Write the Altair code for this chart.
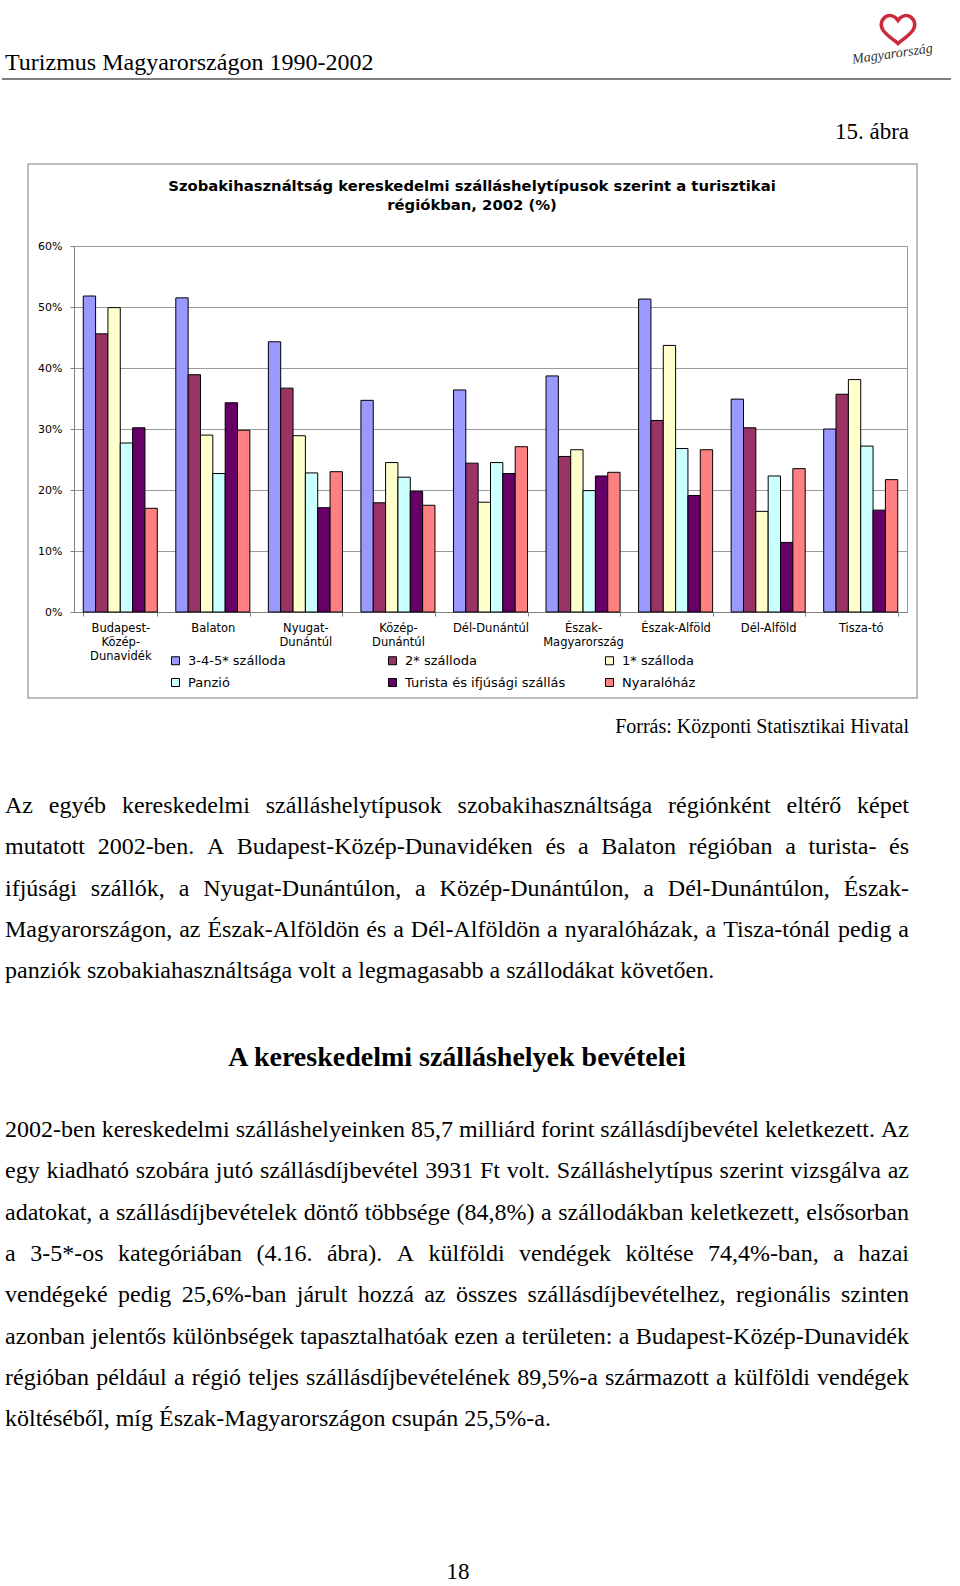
import altair as alt
import pandas as pd

# ---------------- chart data ----------------
regions = ["Budapest-|Közép-|Dunavidék", "Balaton", "Nyugat-|Dunántúl", "Közép-|Dunántúl",
           "Dél-Dunántúl", "Észak-|Magyarország", "Észak-Alföld", "Dél-Alföld", "Tisza-tó"]
series = ["3-4-5* szálloda", "2* szálloda", "1* szálloda", "Panzió",
          "Turista és ifjúsági szállás", "Nyaralóház"]
colors = ["#9999FF", "#993366", "#FFFFCC", "#CCFFFF", "#660066", "#FF8080"]

hotel345 = [51.8, 51.5, 44.3, 34.7, 36.4, 38.7, 51.3, 34.9, 30.0]
hotel2 = [45.6, 38.9, 36.7, 17.9, 24.4, 25.5, 31.4, 30.2, 35.7]
hotel1 = [49.9, 29.0, 28.9, 24.5, 18.0, 26.6, 43.7, 16.5, 38.1]
panzio = [27.7, 22.7, 22.8, 22.1, 24.5, 19.9, 26.8, 22.3, 27.2]
turista = [30.2, 34.3, 17.1, 19.8, 22.7, 22.3, 19.1, 11.4, 16.7]
nyaralo = [17.0, 29.8, 23.0, 17.5, 27.1, 22.9, 26.6, 23.5, 21.7]
y_ticks = [0, 10, 20, 30, 40, 50, 60]

chart_title = ["Szobakihasználtság kereskedelmi szálláshelytípusok szerint a turisztikai",
               "régiókban, 2002 (%)"]

# ---------------- page text ----------------
header_text = "Turizmus Magyarországon 1990-2002"
figure_label = "15. ábra"
source_text = "Forrás: Központi Statisztikai Hivatal"
para1 = [
    "Az egyéb kereskedelmi szálláshelytípusok szobakihasználtsága régiónként eltérő képet",
    "mutatott 2002-ben. A Budapest-Közép-Dunavidéken és a Balaton régióban a turista- és",
    "ifjúsági szállók, a Nyugat-Dunántúlon, a Közép-Dunántúlon, a Dél-Dunántúlon, Észak-",
    "Magyarországon, az Észak-Alföldön és a Dél-Alföldön a nyaralóházak, a Tisza-tónál pedig a",
    "panziók szobakiahasználtsága volt a legmagasabb a szállodákat követően.",
]
heading = "A kereskedelmi szálláshelyek bevételei"
para2 = [
    "2002-ben kereskedelmi szálláshelyeinken 85,7 milliárd forint szállásdíjbevétel keletkezett. Az",
    "egy kiadható szobára jutó szállásdíjbevétel 3931 Ft volt. Szálláshelytípus szerint vizsgálva az",
    "adatokat, a szállásdíjbevételek döntő többsége (84,8%) a szállodákban keletkezett, elsősorban",
    "a 3-5*-os kategóriában (4.16. ábra). A külföldi vendégek költése 74,4%-ban, a hazai",
    "vendégeké pedig 25,6%-ban járult hozzá az összes szállásdíjbevételhez, regionális szinten",
    "azonban jelentős különbségek tapasztalhatóak ezen a területen: a Budapest-Közép-Dunavidék",
    "régióban például a régió teljes szállásdíjbevételének 89,5%-a származott a külföldi vendégek",
    "költéséből, míg Észak-Magyarországon csupán 25,5%-a.",
]
page_number = "18"
logo_text = "Magyarország"

# ---------------- layout helpers ----------------
PAGE_W, PAGE_H = 960, 1586
OX, OY = 74, 246            # plot-area origin on the page
PW, PH = 833, 366           # plot-area size

TIMES_W = {' ': 250, '!': 333, '"': 408, '%': 833, '(': 333, ')': 333, '*': 500, ',': 250,
           '-': 333, '.': 250, '/': 278, ':': 278, ';': 278, '?': 444,
           'A': 722, 'B': 667, 'C': 667, 'D': 722, 'E': 611, 'F': 556, 'G': 722, 'H': 722,
           'I': 333, 'J': 389, 'K': 722, 'L': 611, 'M': 889, 'N': 722, 'O': 722, 'P': 556,
           'Q': 722, 'R': 667, 'S': 556, 'T': 611, 'U': 722, 'V': 722, 'W': 944, 'X': 722,
           'Y': 722, 'Z': 611,
           'a': 444, 'b': 500, 'c': 444, 'd': 500, 'e': 444, 'f': 333, 'g': 500, 'h': 500,
           'i': 278, 'j': 278, 'k': 500, 'l': 278, 'm': 778, 'n': 500, 'o': 500, 'p': 500,
           'q': 500, 'r': 333, 's': 389, 't': 278, 'u': 500, 'v': 500, 'w': 722, 'x': 500,
           'y': 500, 'z': 444}
for _d in "0123456789":
    TIMES_W[_d] = 500
ACC = {'á': 'a', 'é': 'e', 'í': 'i', 'ó': 'o', 'ö': 'o', 'ő': 'o', 'ú': 'u', 'ü': 'u',
       'ű': 'u', 'Á': 'A', 'É': 'E', 'Í': 'I', 'Ó': 'O', 'Ö': 'O', 'Ő': 'O', 'Ú': 'U',
       'Ü': 'U', 'Ű': 'U'}


def text_width(s, size):
    return sum(TIMES_W.get(ACC.get(c, c), 500) for c in s) * size / 1000.0


def justify(lines, first_baseline, step, left, right, size):
    rows = []
    for i, line in enumerate(lines):
        words = line.split(" ")
        y = first_baseline + i * step
        widths = [text_width(w, size) for w in words]
        if i == len(lines) - 1 or len(words) == 1:
            gap = text_width(" ", size)
        else:
            gap = max((right - left - sum(widths)) / (len(words) - 1), text_width(" ", size) * 0.6)
        x = left
        for w, wd in zip(words, widths):
            rows.append({"text": w, "px": x - OX, "py": y - OY})
            x += wd + gap
    return rows


def text_layer(rows, font, size, weight="normal", align="left", baseline="alphabetic",
               color="#000000", style="normal", angle=0):
    return alt.Chart(pd.DataFrame(rows)).mark_text(
        font=font, fontSize=size, fontWeight=weight, align=align, baseline=baseline,
        color=color, fontStyle=style, angle=angle
    ).encode(
        x=alt.X("px:Q", scale=None, axis=None),
        y=alt.Y("py:Q", scale=None, axis=None),
        text=alt.Text("text:N"),
    )


def at(text, x, y):
    return [{"text": text, "px": x - OX, "py": y - OY}]


SERIF = "Liberation Serif"
SANS = "DejaVu Sans"
BODY = 24
one = pd.DataFrame({"k": [0]})

# ---------------- bars ----------------
rows = []
for s, vals in zip(series, [hotel345, hotel2, hotel1, panzio, turista, nyaralo]):
    for r, v in zip(regions, vals):
        rows.append({"region": r, "series": s, "value": v})
df_bars = pd.DataFrame(rows)

bars = alt.Chart(df_bars).mark_bar(stroke="black", strokeWidth=1).encode(
    x=alt.X("region:N", sort=regions,
            scale=alt.Scale(paddingInner=0.2, paddingOuter=0.1),
            axis=alt.Axis(title=None, labelExpr="split(datum.label, '|')", labelAngle=0,
                          labelBaseline="top", labelLineHeight=14, labelPadding=6,
                          labelFont=SANS, labelFontSize=11.5, labelColor="black",
                          tickBand="extent", tickSize=4, tickColor="#808080",
                          domainColor="#808080", grid=False, labelOverlap=False)),
    xOffset=alt.XOffset("series:N", sort=series,
                        scale=alt.Scale(paddingInner=0, paddingOuter=0)),
    y=alt.Y("value:Q", scale=alt.Scale(domain=[0, 60]),
            axis=alt.Axis(title=None, values=y_ticks, labelExpr="datum.value + '%'",
                          labelFont=SANS, labelFontSize=11, labelColor="black",
                          labelPadding=8, tickSize=4, tickColor="#808080",
                          domainColor="#808080", grid=True, gridColor="#9a9a9a")),
    color=alt.Color("series:N", sort=series,
                    scale=alt.Scale(domain=series, range=colors),
                    legend=alt.Legend(title=None, orient="none", legendX=95, legendY=408,
                                      direction="horizontal",
                                      columns=3, gridAlign="all", columnPadding=37,
                                      rowPadding=8, symbolType="square", symbolSize=64,
                                      symbolStrokeColor="black", symbolStrokeWidth=1,
                                      labelFont=SANS, labelFontSize=13, labelOffset=6,
                                      labelLimit=400, labelColor="black")),
)

# chart frame
frame = alt.Chart(one).mark_rect(filled=False, stroke="#a6a6a6", strokeWidth=1.5).encode(
    x=alt.value(28 - OX), x2=alt.value(917 - OX),
    y=alt.value(164 - OY), y2=alt.value(698 - OY),
)

title_layer = text_layer(at(chart_title[0], 472, 187) + at(chart_title[1], 472, 206),
                         SANS, 14.8, weight="bold", align="center", baseline="middle")

# page header
header = text_layer(at(header_text, 5, 70), SERIF, 24)
header_rule = alt.Chart(one).mark_rule(color="#555555", strokeWidth=1.5).encode(
    x=alt.value(2 - OX), x2=alt.value(951 - OX), y=alt.value(79 - OY))
fig_label = text_layer(at(figure_label, 909, 139), SERIF, 23, align="right")

heart = alt.Chart(one).mark_point(
    shape="M 0 -0.4 C -0.5 -1.1 -1.3 -0.4 -0.9 0.2 C -0.6 0.6 -0.2 0.8 0 1 "
          "C 0.2 0.8 0.6 0.6 0.9 0.2 C 1.3 -0.4 0.5 -1.1 0 -0.4 Z",
    filled=False, stroke="#cc2a3a", strokeWidth=3.5, size=1100, opacity=1
).encode(x=alt.value(898 - OX), y=alt.value(27 - OY))
logo = text_layer(at(logo_text, 893, 58), SERIF, 14, style="italic", align="center",
                  color="#333333", angle=352)

source = text_layer(at(source_text, 909, 733), SERIF, 20, align="right")

body1 = text_layer(justify(para1, 813, 41.3, 5, 909, BODY), SERIF, BODY)
head2 = text_layer(at(heading, 457, 1066), SERIF, 28, weight="bold", align="center")
body2 = text_layer(justify(para2, 1137, 41.3, 5, 909, BODY), SERIF, BODY)
pnum = text_layer(at(page_number, 458, 1579), SERIF, 23, align="center")

chart = alt.layer(
    frame, bars, title_layer, header, header_rule, fig_label, heart, logo,
    source, body1, head2, body2, pnum
).resolve_scale(
    x="independent", y="independent"
).properties(
    width=PW, height=PH,
    padding={"left": OX, "top": OY, "right": PAGE_W - OX - PW, "bottom": PAGE_H - OY - PH},
    autosize=alt.AutoSizeParams(type="none"),
    background="white",
).configure_view(stroke="#9a9a9a", strokeWidth=1)

chart.save("out.html", embed_options={"renderer": "svg", "actions": False})
